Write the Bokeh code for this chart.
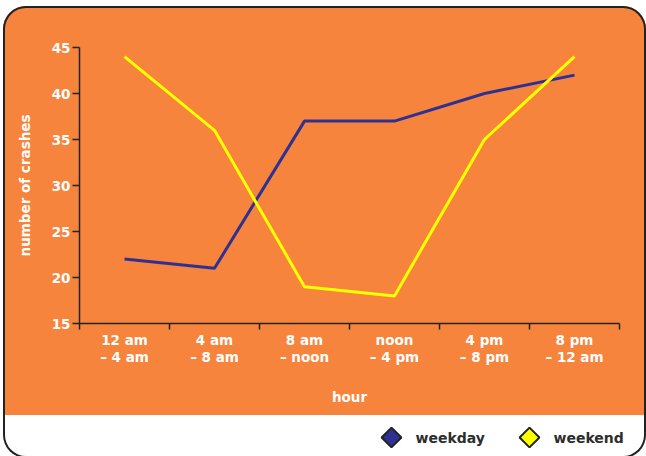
import numpy as np
from bokeh.plotting import figure
from bokeh.layouts import column
from bokeh.models import Range1d, FixedTicker
from bokeh.core.properties import value
from bokeh.embed import file_html
from bokeh.resources import INLINE

# ---- data ----
hours = ["12 am\n– 4 am", "4 am\n– 8 am", "8 am\n– noon",
         "noon\n– 4 pm", "4 pm\n– 8 pm", "8 pm\n– 12 am"]
weekday = [22, 21, 37, 37, 40, 42]
weekend = [44, 36, 19, 18, 35, 44]
series_names = ["weekday", "weekend"]
y_ticks = [15, 20, 25, 30, 35, 40, 45]

# ---- style ----
ORANGE = "#f6843c"
NAVY = "#2e3192"
YELLOW = "#ffff00"
DARK = "#222222"
FONT = "DejaVu Sans"
FS = "13.5px"
W = 643            # panel width
H_CHART = 410      # orange part
H_LEG = 42         # white legend strip
ML, MR = 76, 27    # left / right borders around the plot frame

n = len(hours)
xs = [i + 0.5 for i in range(n)]

# ---------------- main chart ----------------
p = figure(width=W, height=H_CHART,
           x_range=Range1d(0, n), y_range=Range1d(y_ticks[0], y_ticks[-1]),
           output_backend="svg", toolbar_location=None,
           min_border_left=ML, min_border_right=MR,
           min_border_top=41, min_border_bottom=93,
           border_fill_color=None, background_fill_color=None,
           outline_line_color=None)
p.grid.visible = False

p.line(xs, weekday, line_color=NAVY, line_width=3)
p.line(xs, weekend, line_color=YELLOW, line_width=3)

xa = p.xaxis[0]
xa.ticker = FixedTicker(ticks=xs, minor_ticks=list(range(n + 1)))
xa.major_label_overrides = {x: h for x, h in zip(xs, hours)}
xa.major_tick_out = 0
xa.major_tick_in = 0
xa.minor_tick_out = 6
xa.minor_tick_in = 0
xa.minor_tick_line_color = DARK
xa.minor_tick_line_width = 1.5
xa.axis_line_color = DARK
xa.axis_line_width = 1.5
xa.major_label_standoff = 2
xa.major_label_text_color = "white"
xa.major_label_text_font = FONT
xa.major_label_text_font_size = FS
xa.major_label_text_font_style = "bold"
xa.major_label_text_line_height = 1.1
xa.axis_label = "hour"
xa.axis_label_text_color = "white"
xa.axis_label_text_font = FONT
xa.axis_label_text_font_size = FS
xa.axis_label_text_font_style = "bold"
xa.axis_label_standoff = 21

ya = p.yaxis[0]
ya.ticker = FixedTicker(ticks=y_ticks, minor_ticks=[])
ya.major_tick_out = 7
ya.major_tick_in = 0
ya.major_tick_line_color = DARK
ya.major_tick_line_width = 1.5
ya.axis_line_color = DARK
ya.axis_line_width = 1.5
ya.major_label_standoff = 2
ya.major_label_text_color = "white"
ya.major_label_text_font = FONT
ya.major_label_text_font_size = FS
ya.major_label_text_font_style = "bold"
ya.axis_label = "number of crashes"
ya.axis_label_text_color = "white"
ya.axis_label_text_font = FONT
ya.axis_label_text_font_size = FS
ya.axis_label_text_font_style = "bold"
ya.axis_label_standoff = 16

# ---------------- legend strip (pixel-scaled figure over full width) ----------------
q = figure(width=W, height=H_LEG, x_range=Range1d(0, W), y_range=Range1d(0, H_LEG),
           output_backend="svg", toolbar_location=None,
           x_axis_type=None, y_axis_type=None, frame_align=False,
           min_border=0, border_fill_color=None, background_fill_color=None,
           outline_line_color=None)
q.grid.visible = False

leg_colors = [NAVY, YELLOW]
leg_x0, leg_step, leg_text_gap = 388, 138, 24
leg_sx = [leg_x0 + i * leg_step for i in range(len(series_names))]
leg_sy = [H_LEG / 2] * len(series_names)
q.scatter(leg_sx, leg_sy, marker="square", angle=np.pi / 4, size=14,
          fill_color=leg_colors, line_color=DARK, line_width=2)
q.text([x + leg_text_gap for x in leg_sx], leg_sy, text=series_names,
       text_font=value(FONT), text_font_size="14px", text_font_style="bold",
       text_color="#2d2d2d", text_baseline="middle", text_align="left")

layout = column(p, q, spacing=0, styles={
    "margin-left": "3px",
    "margin-top": "6px",
    "border-radius": "23px",
    "box-shadow": "inset 0 0 0 2px #222",
    "background": f"linear-gradient(to bottom, {ORANGE} 0px, {ORANGE} 409.5px, #ffffff 409.5px)",
})

open("out.html", "w").write(file_html(layout, INLINE))
